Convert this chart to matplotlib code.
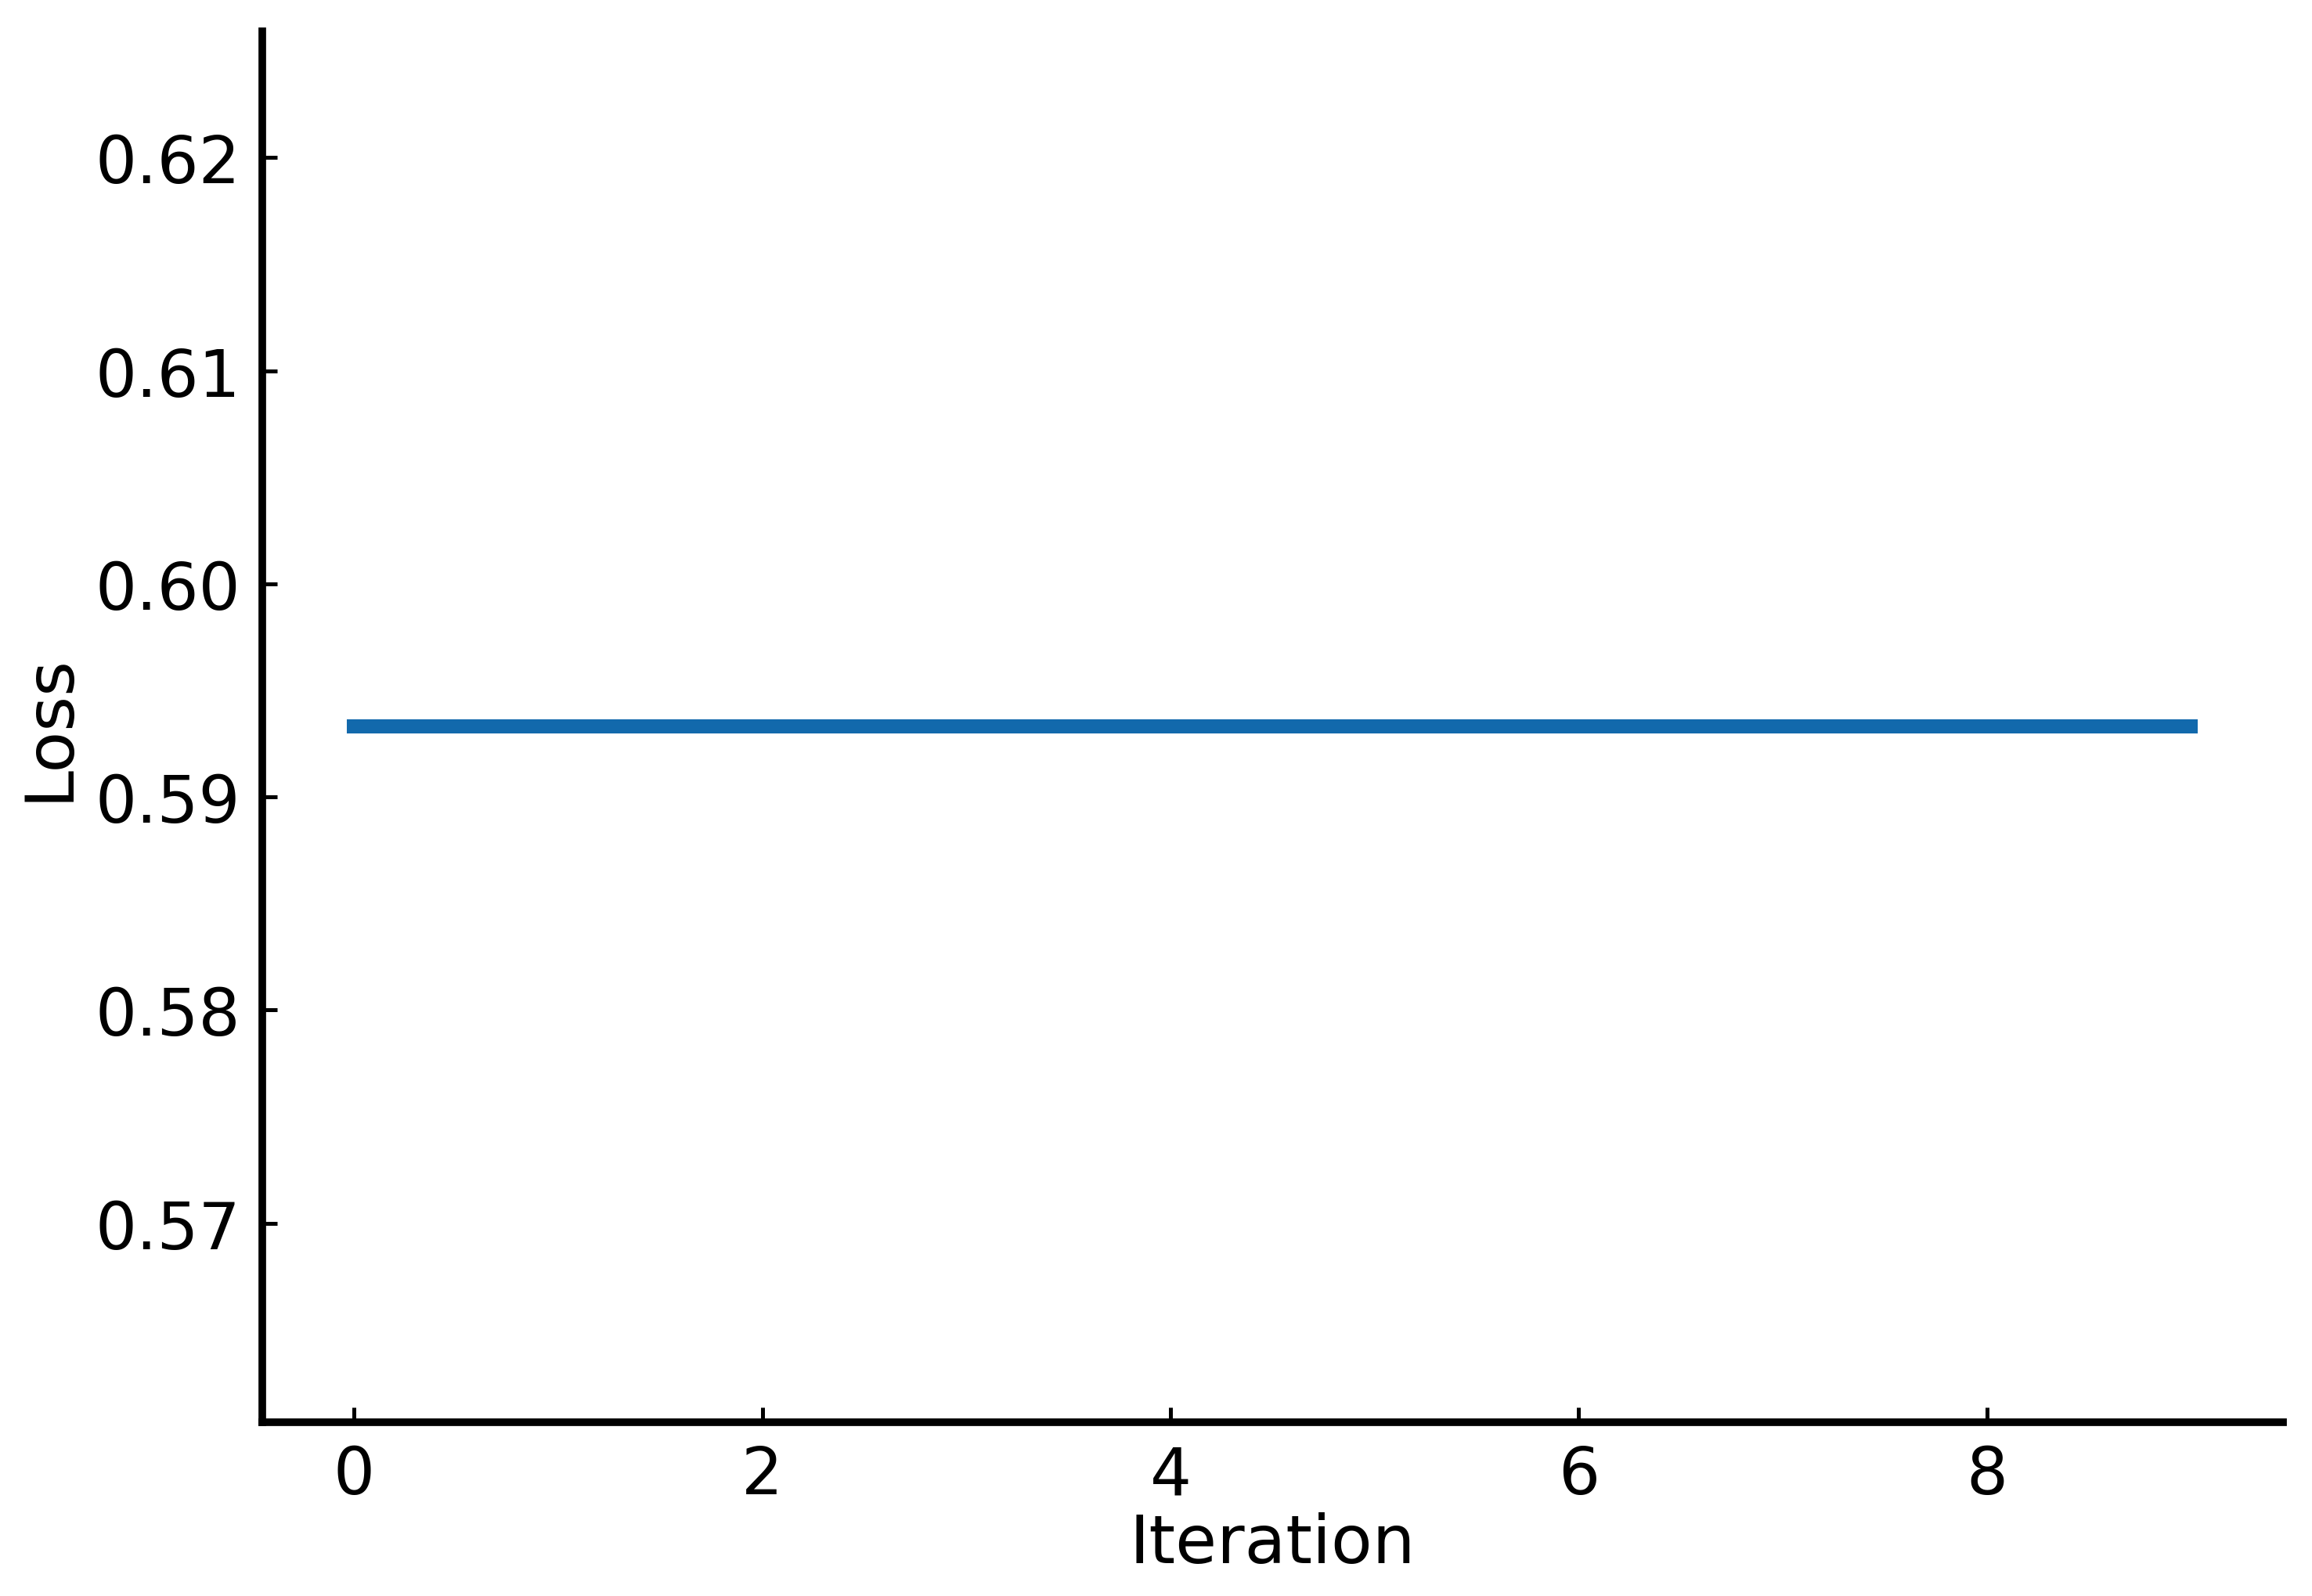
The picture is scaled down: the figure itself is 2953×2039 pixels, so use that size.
import matplotlib
matplotlib.use('Agg')
import matplotlib.pyplot as plt

# loss per iteration (flat)
iterations = [0, 1, 2, 3, 4, 5, 6, 7, 8, 9]
loss = [0.5933, 0.5933, 0.5933, 0.5933, 0.5933, 0.5933, 0.5933, 0.5933, 0.5933, 0.5933]

fig = plt.figure(figsize=(14.765, 10.2), dpi=200)
ax = fig.add_axes([0.1134, 0.109, 0.874, 0.871])

ax.plot(iterations, loss, color='#1269ac', linewidth=6.5)

ax.set_xlabel("Iteration", fontsize=31, labelpad=2)
ax.set_ylabel("Loss", fontsize=31, labelpad=6)

ax.spines['top'].set_visible(False)
ax.spines['right'].set_visible(False)
ax.spines['left'].set_linewidth(3.5)
ax.spines['bottom'].set_linewidth(3.5)
ax.tick_params(direction='in', length=7, width=1.8, labelsize=30, pad=10)

fig.savefig('out.png', dpi=200)
